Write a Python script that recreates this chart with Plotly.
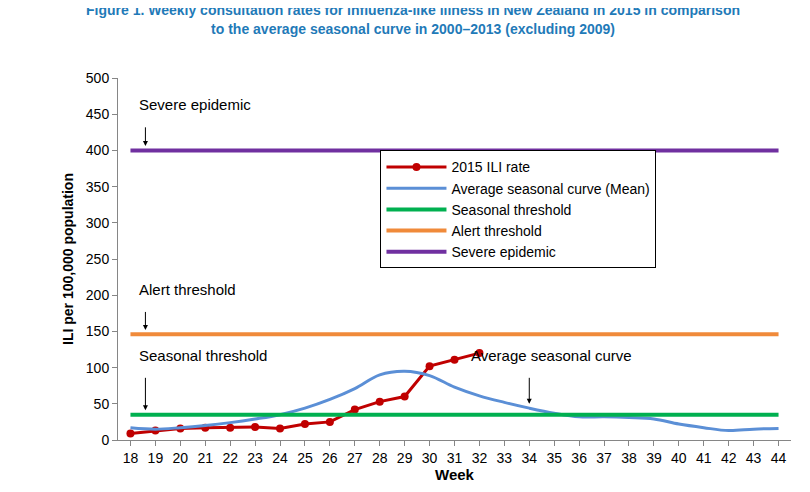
import plotly.graph_objects as go

weeks = list(range(18, 45))
rate_2015 = [9, 13, 16, 17, 17, 18, 16, 22, 25, 42, 53, 60, 102, 111, 120]
avg_curve = [17, 15, 17, 20, 24, 29, 35, 44, 56, 71, 90, 95, 89, 73, 61, 52, 44, 37,
             32, 32, 31, 29, 22, 17, 13, 15, 16]
seasonal_threshold = 35
alert_threshold = 146
severe_epidemic = 400

n = len(weeks)
fig = go.Figure()
fig.add_trace(go.Scatter(x=weeks[:len(rate_2015)], y=rate_2015, name="2015 ILI rate",
                         mode="lines+markers", line=dict(color="#c00000", width=3),
                         marker=dict(size=8, color="#c00000")))
fig.add_trace(go.Scatter(x=weeks, y=avg_curve, name="Average seasonal curve (Mean)",
                         mode="lines", line=dict(color="#5b8fd6", width=3, shape="spline")))
fig.add_trace(go.Scatter(x=weeks, y=[seasonal_threshold] * n, name="Seasonal threshold",
                         mode="lines", line=dict(color="#00b050", width=4)))
fig.add_trace(go.Scatter(x=weeks, y=[alert_threshold] * n, name="Alert threshold",
                         mode="lines", line=dict(color="#f08a3a", width=4)))
fig.add_trace(go.Scatter(x=weeks, y=[severe_epidemic] * n, name="Severe epidemic",
                         mode="lines", line=dict(color="#7030a0", width=4)))

# (label, arrow x, line value, label y)
notes = [("Severe epidemic", 18.6, 400, 463), ("Alert threshold", 18.6, 146, 208),
         ("Seasonal threshold", 18.6, 35, 117), ("Average seasonal curve", 34, 44, 117)]
for text, x, y, ty in notes:
    fig.add_annotation(x=x, y=y + 6, ax=x, ay=ty - 18, axref="x", ayref="y",
                       showarrow=True, arrowhead=2, arrowsize=1, arrowwidth=1, arrowcolor="black")
    fig.add_annotation(x=x - 0.35 if x < 20 else x - 2.4, y=ty, text=text, showarrow=False,
                       xanchor="left", font=dict(size=15, color="black"))

fig.update_layout(
    width=810, height=492, plot_bgcolor="white", paper_bgcolor="white",
    font=dict(family="Liberation Sans, Arial", color="black", size=14),
    title=dict(text="<b>Figure 1. Weekly consultation rates for influenza-like illness in New Zealand in 2015 in comparison<br>to the average seasonal curve in 2000–2013 (excluding 2009)</b>",
               x=0.5, y=0.985, xanchor="center", font=dict(size=14, color="#1f7ab8")),
    margin=dict(l=110, r=27, t=70, b=60),
    legend=dict(x=0.39, y=0.80, xanchor="left", yanchor="top", bgcolor="white",
                bordercolor="black", borderwidth=1, font=dict(size=14),
                itemwidth=60),
    showlegend=True,
)
fig.update_xaxes(range=[17.5, 44.5], tickmode="linear", dtick=1, showline=True,
                 linecolor="#868686", ticks="outside", tickcolor="#868686", showgrid=False,
                 title=dict(text="<b>Week</b>", standoff=4, font=dict(size=15)),
                 tickfont=dict(size=14))
fig.update_yaxes(range=[0, 500], dtick=50, showline=True, linecolor="#868686",
                 ticks="outside", tickcolor="#868686", showgrid=False, zeroline=False,
                 title=dict(text="<b>ILI per 100,000 population</b>", standoff=8,
                            font=dict(size=14)),
                 tickfont=dict(size=14))

fig.write_html("out.html")
